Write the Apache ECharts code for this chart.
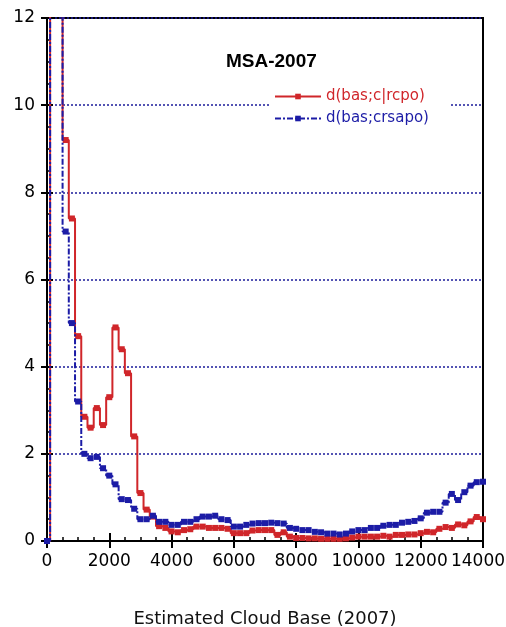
<!DOCTYPE html>
<html>
<head>
<meta charset="utf-8">
<script src="https://cdn.jsdelivr.net/npm/echarts@6/dist/echarts.min.js"></script>
<style>
html,body{margin:0;padding:0;background:#fff;}
#chart{width:506px;height:627px;}
</style>
</head>
<body>
<div id="chart"></div>
<script>
// Estimated cloud base (x) sample positions
var cloudBase = [0,200,400,600,800,1000,1200,1400,1600,1800,2000,2200,2400,2600,2800,3000,3200,3400,3600,3800,
  4000,4200,4400,4600,4800,5000,5200,5400,5600,5800,6000,6200,6400,6600,6800,7000,7200,7400,7600,7800,
  8000,8200,8400,8600,8800,9000,9200,9400,9600,9800,10000,10200,10400,10600,10800,11000,11200,11400,11600,11800,
  12000,12200,12400,12600,12800,13000,13200,13400,13600,13800,14000];

// d(bas;c|rcpo) - red series
var redValues = [0,40,14,9.2,7.4,4.7,2.85,2.6,3.05,2.66,3.3,4.9,4.4,3.85,2.4,1.1,0.72,0.56,0.34,0.3,
  0.22,0.2,0.25,0.27,0.33,0.33,0.3,0.3,0.3,0.28,0.18,0.18,0.18,0.24,0.25,0.25,0.25,0.14,0.2,0.1,
  0.07,0.07,0.06,0.06,0.05,0.05,0.05,0.05,0.06,0.08,0.1,0.1,0.1,0.1,0.12,0.1,0.14,0.14,0.15,0.15,
  0.18,0.21,0.2,0.28,0.32,0.3,0.38,0.36,0.45,0.55,0.5];

// d(bas;crsapo) - blue series
var blueValues = [0,40,14,7.1,5.0,3.2,2.0,1.9,1.93,1.67,1.5,1.3,0.96,0.94,0.74,0.5,0.5,0.58,0.44,0.44,
  0.37,0.37,0.44,0.44,0.5,0.56,0.56,0.58,0.5,0.48,0.33,0.33,0.37,0.4,0.41,0.41,0.42,0.41,0.4,0.3,
  0.28,0.25,0.25,0.21,0.2,0.17,0.17,0.15,0.17,0.22,0.25,0.25,0.3,0.3,0.35,0.37,0.37,0.42,0.44,0.46,
  0.52,0.65,0.67,0.67,0.88,1.08,0.94,1.12,1.27,1.35,1.36];

var seriesNames = ['d(bas;c|rcpo)', 'd(bas;crsapo)'];
var titleText = 'MSA-2007';
var xTitle = 'Estimated Cloud Base (2007)';
var xMax = 14000;

function pairs(xs, ys){ return xs.map(function(x,i){ return [x, ys[i]]; }); }
function plain(v){ return String(v); }
function xLabel(v){ return v === xMax ? '{m|' + v + '}' : String(v); }

var RED = '#d0262a', BLUE = '#1c1ca6';
var labelFont = "'DejaVu Sans',sans-serif";

var chart = echarts.init(document.getElementById('chart'), null, {renderer:'canvas'});
chart.setOption({
  animation:false,
  backgroundColor:'#fff',
  title:{
    text:titleText, left:221, top:47,
    textStyle:{fontFamily:"'Liberation Sans',sans-serif", fontWeight:'bold', fontSize:19, color:'#000'}
  },
  legend:{
    orient:'vertical', left:270, top:86, itemGap:7, itemWidth:46, itemHeight:7,
    padding:[3,22,3,4], backgroundColor:'#fff',
    data:[
      {name:seriesNames[0], textStyle:{color:RED}},
      {name:seriesNames[1], textStyle:{color:BLUE}}
    ],
    textStyle:{fontFamily:labelFont, fontSize:15}
  },
  grid:{left:47, right:23, top:18, bottom:86, containLabel:false, outerBoundsMode:'none',
        show:true, borderColor:'#000', borderWidth:2, backgroundColor:'transparent'},
  xAxis:[{
    type:'value', min:0, max:xMax, interval:2000,
    name:xTitle, nameLocation:'middle', nameGap:69,
    nameTextStyle:{fontFamily:labelFont, fontSize:18, color:'#111'},
    axisLine:{show:true, lineStyle:{color:'#000', width:2}},
    axisTick:{show:true, inside:true, length:8, lineStyle:{color:'#000', width:2}},
    minorTick:{show:true, splitNumber:4, length:4, lineStyle:{color:'#000', width:1.5}},
    axisLabel:{margin:12, fontFamily:labelFont, fontSize:17, color:'#000', formatter:xLabel,
               showMinLabel:true, showMaxLabel:true, hideOverlap:false,
               rich:{m:{fontFamily:labelFont, fontSize:17, color:'#000', padding:[0,10,0,0]}}},
    splitLine:{show:false}
  },{
    type:'value', position:'top', min:0, max:xMax, interval:2000,
    axisLine:{show:true, lineStyle:{color:'#000', width:2}},
    axisTick:{show:true, inside:true, length:7, lineStyle:{color:'#000', width:2}},
    axisLabel:{show:false}, splitLine:{show:false}
  }],
  yAxis:[{
    type:'value', min:0, max:12, interval:2,
    axisLine:{show:true, lineStyle:{color:'#000', width:2}},
    axisTick:{show:true, inside:true, length:6, lineStyle:{color:'#000', width:2}},
    minorTick:{show:true, splitNumber:4, length:4, lineStyle:{color:'#000', width:1.5}},
    axisLabel:{margin:12, fontFamily:labelFont, fontSize:17, color:'#000', formatter:plain},
    splitLine:{show:true, lineStyle:{color:'#1c1c9a', type:[2,2], width:1.5}}
  },{
    type:'value', position:'right', min:0, max:12, interval:2,
    axisLine:{show:true, lineStyle:{color:'#000', width:2}},
    axisTick:{show:true, inside:true, length:6, lineStyle:{color:'#000', width:2}},
    axisLabel:{show:false}, splitLine:{show:false}
  }],
  series:[{
    name:seriesNames[1], type:'line', step:'middle', clip:true,
    xAxisIndex:0, yAxisIndex:0,
    data:pairs(cloudBase, blueValues),
    symbol:'rect', symbolSize:6, showAllSymbol:true,
    lineStyle:{color:BLUE, width:2, type:[6,2,2,2]},
    itemStyle:{color:BLUE},
    z:3
  },{
    name:seriesNames[0], type:'line', step:'middle', clip:true,
    xAxisIndex:0, yAxisIndex:0,
    data:pairs(cloudBase, redValues),
    symbol:'rect', symbolSize:6, showAllSymbol:true,
    lineStyle:{color:RED, width:2},
    itemStyle:{color:RED},
    z:2
  },{
    name:'frame', type:'line', xAxisIndex:1, yAxisIndex:1, data:[], silent:true,
    symbol:'none', lineStyle:{opacity:0}
  }]
});
</script>
</body>
</html>
